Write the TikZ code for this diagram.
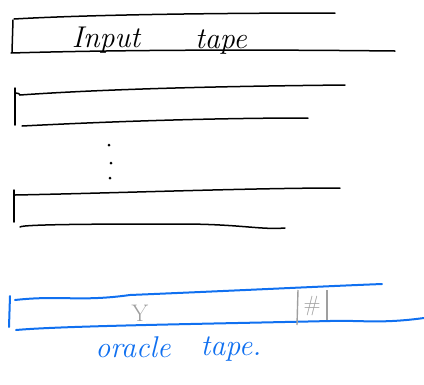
\documentclass[tikz,border=0pt]{standalone}
\usepackage{fontspec}
\begin{document}
\begin{tikzpicture}[x=1pt,y=-1pt,
  tape/.style={line width=1.5pt,line cap=round},
  otape/.style={line width=2pt,line cap=round,draw=oblue},
  gmark/.style={line width=1.4pt,draw=gray!75},
  hand/.style={font=\itshape\fontsize{30}{34}\selectfont,inner sep=0pt},
  dotmark/.style={fill=black,draw=none}]
\definecolor{oblue}{HTML}{1070F0}
\useasboundingbox (0,0) rectangle (424,384);
% tape 1
\draw[tape] (14,19) .. controls (100,14) and (250,13) .. (335,13);
\draw[tape] (13,20) -- (12,52);
\draw[tape] (11,53) .. controls (150,49) and (300,50) .. (395,51);
\node[hand] (in) at (106,40) {Input};
\node[hand] (tp) at (221,42) {tape};
% tape 2
\draw[tape] (16,93) .. controls (18,92) and (20,95) .. (20,95) .. controls (120,88) and (250,86) .. (345,85);
\draw[tape] (15,88) -- (15,125);
\draw[tape] (22,126) .. controls (120,121) and (220,118) .. (308,118);
% dots
\fill[dotmark] (109,145) circle (1.5pt);
\fill[dotmark] (111,163) circle (1.5pt);
\fill[dotmark] (110,178) circle (1.5pt);
% tape 3
\draw[tape] (15,195) .. controls (120,193) and (250,188) .. (340,188);
\draw[tape] (14,190) -- (14,222);
\draw[tape] (20,227) .. controls (22,224) and (120,224) .. (180,224) .. controls (240,224) and (260,230) .. (285,228);
% oracle tape
\draw[otape] (15,300) .. controls (60,295) and (80,302) .. (130,295) .. controls (250,290) and (330,286) .. (382,284);
\draw[otape] (10,296) -- (9,327);
\draw[otape] (16,330) .. controls (60,326) and (200,324) .. (330,321) .. controls (360,320) and (380,324) .. (424,318);
\draw[gmark] (298,290) -- (297,325);
\draw[gmark] (327,290) -- (327,320);
\node[inner sep=0pt,text=gray!75,font=\fontsize{22}{24}\selectfont] (hash) at (312,306) {\#};
\node[inner sep=0pt,text=gray!75,font=\fontsize{24}{26}\selectfont] (y) at (140,313) {Y};
\node[hand,text=oblue] (or) at (133,347) {oracle};
\node[hand,text=oblue] (ot) at (231,349) {tape.};
\end{tikzpicture}
\end{document}
